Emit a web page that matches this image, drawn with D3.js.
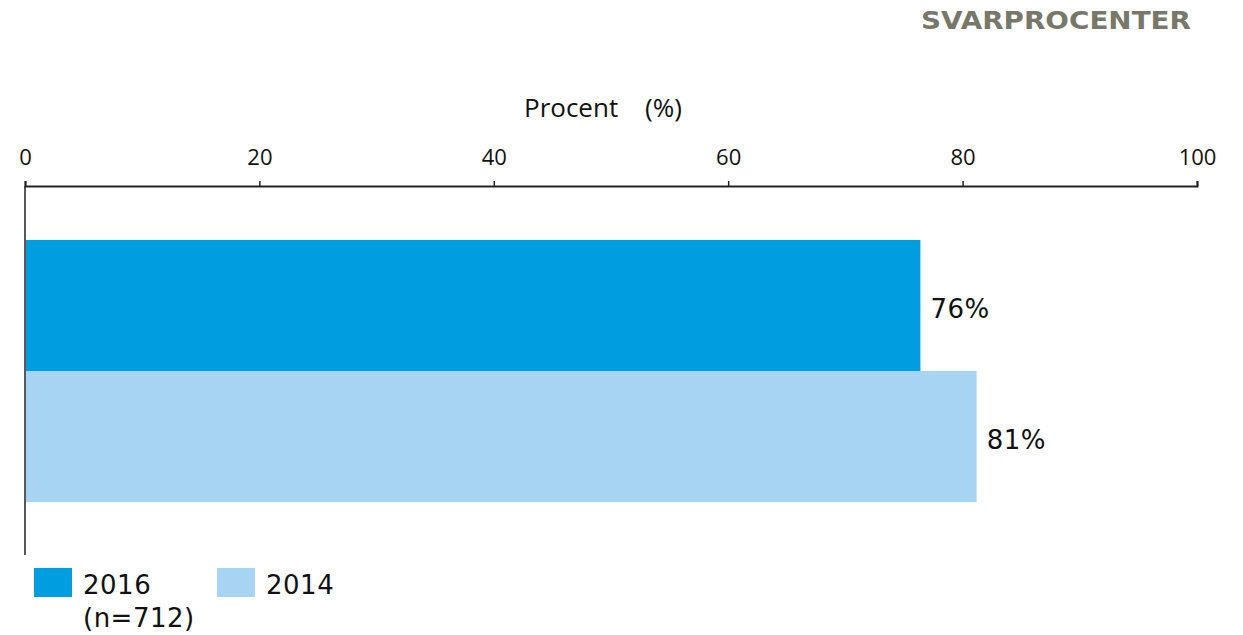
<!DOCTYPE html>
<html>
<head>
<meta charset="utf-8">
<script src="https://cdn.jsdelivr.net/npm/d3@7"></script>
<style>
  body { margin: 0; background: #fff; }
  svg text { font-family: "DejaVu Sans", Verdana, sans-serif; fill: #111; }
</style>
</head>
<body>
<div id="chart"></div>
<script>
  // Series
  const years = ['2016', '2014'];
  const yearNotes = ['(n=712)', ''];
  const values = [76.4, 81.2];
  const valueLabels = ['76%', '81%'];
  const colors = ['#009ee0', '#a8d4f4'];
  const ticks = [0, 20, 40, 60, 80, 100];

  const width = 1243, height = 635;

  const svg = d3.select('#chart').append('svg')
    .attr('width', width)
    .attr('height', height);

  const x = d3.scaleLinear().domain([0, 100]).range([25, 1197]);
  const y = d3.scaleBand().domain(years).range([240, 502]).padding(0);

  // title
  svg.append('text')
    .attr('x', 921).attr('y', 29)
    .attr('textLength', 270)
    .attr('lengthAdjust', 'spacingAndGlyphs')
    .style('font-weight', 'bold')
    .style('font-size', '24px')
    .style('fill', '#78786a')
    .text('SVARPROCENTER');

  const axisTitle = svg.append('text')
    .attr('y', 117)
    .style('font-family', '"Open Sans", sans-serif')
    .style('font-size', '26px');
  axisTitle.append('tspan').attr('x', 524).text('Procent');
  axisTitle.append('tspan').attr('x', 645).text('(%)');

  // top axis
  const axis = svg.append('g')
    .attr('transform', 'translate(0,186)')
    .call(d3.axisTop(x).tickValues(ticks).tickSize(5).tickSizeOuter(5));
  axis.select('.domain').attr('stroke', '#222').attr('stroke-width', 2);
  axis.selectAll('.tick line').attr('stroke', '#222').attr('stroke-width', 1.5);
  axis.selectAll('.tick text')
    .attr('y', -21)
    .attr('dy', 0)
    .attr('fill', '#111')
    .style('font-size', '22px')
    .style('font-family', '"Open Sans", sans-serif');

  // vertical baseline
  svg.append('line')
    .attr('x1', x(0)).attr('x2', x(0))
    .attr('y1', 186).attr('y2', 555)
    .attr('stroke', '#222').attr('stroke-width', 1.5);

  // bars
  svg.selectAll('rect.bar')
    .data(values)
    .join('rect')
    .attr('class', 'bar')
    .attr('x', x(0) + 1)
    .attr('y', (d, i) => y(years[i]))
    .attr('width', d => x(d) - x(0) - 1)
    .attr('height', y.bandwidth())
    .attr('fill', (d, i) => colors[i]);

  svg.selectAll('text.val')
    .data(values)
    .join('text')
    .attr('class', 'val')
    .attr('x', d => x(d) + 10)
    .attr('y', (d, i) => y(years[i]) + y.bandwidth() / 2 + 12)
    .style('font-size', '26px')
    .style('letter-spacing', '0.5px')
    .text((d, i) => valueLabels[i]);

  // legend
  const legend = svg.append('g').attr('transform', 'translate(34,568)');
  years.forEach((yr, i) => {
    const g = legend.append('g').attr('transform', `translate(${i * 183},0)`);
    g.append('rect').attr('width', 38).attr('height', 29).attr('fill', colors[i]);
    g.append('text').attr('x', 49).attr('y', 26)
      .style('font-size', '26px').style('letter-spacing', '0.5px').text(yr);
    if (yearNotes[i]) {
      g.append('text').attr('x', 49).attr('y', 59)
        .style('font-size', '26px').style('letter-spacing', '0.5px').text(yearNotes[i]);
    }
  });
</script>
</body>
</html>
